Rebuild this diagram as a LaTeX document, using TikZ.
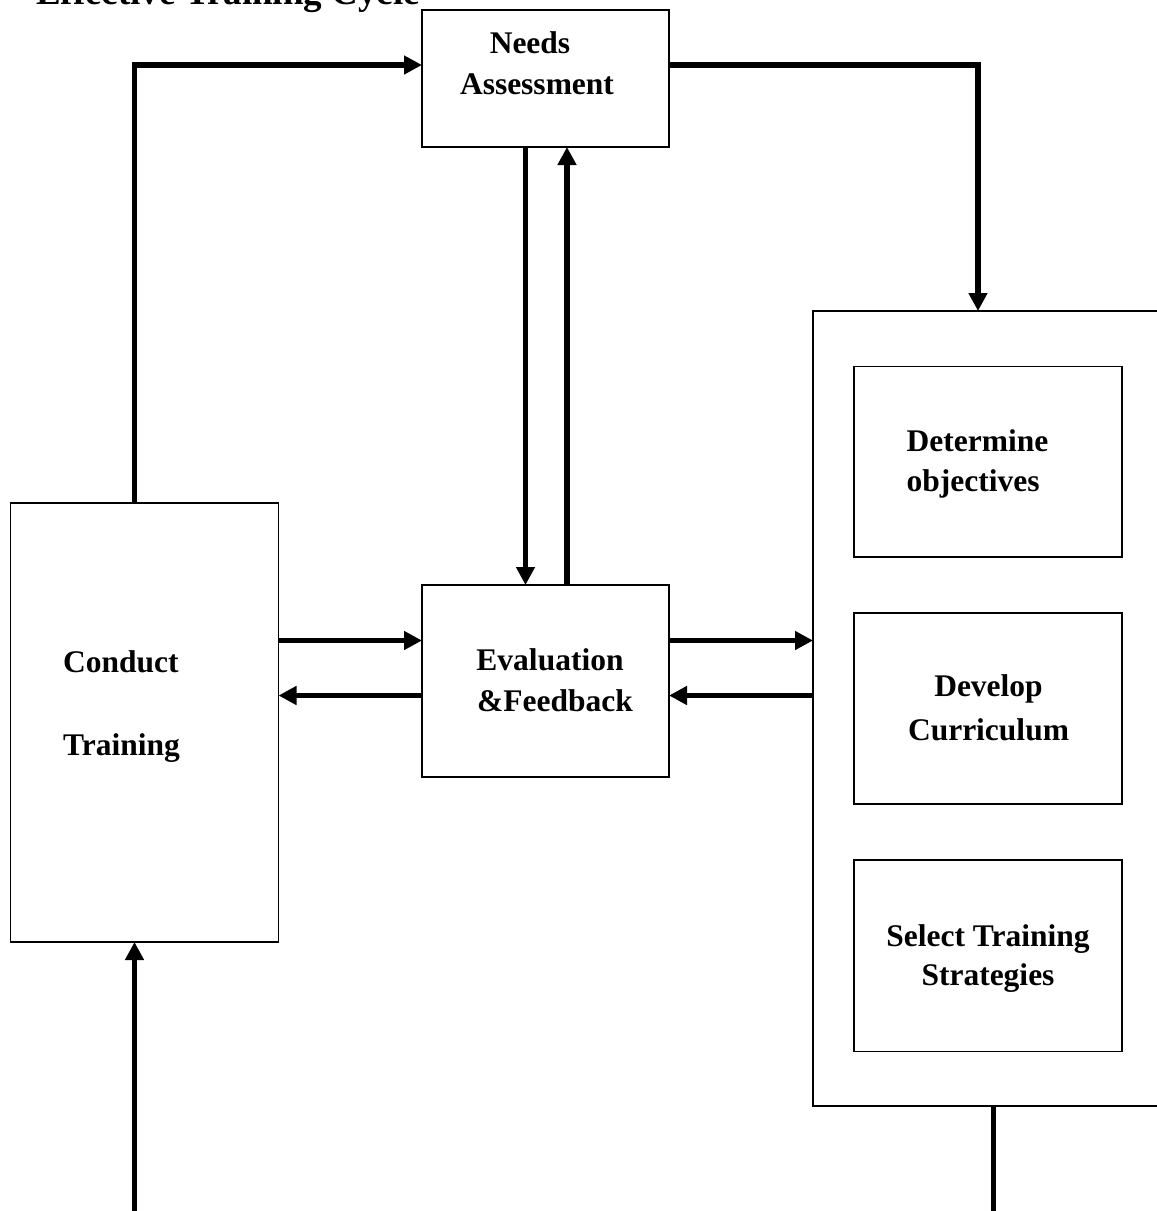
\documentclass[tikz,border=0pt]{standalone}
\usepackage{fontspec}
\setmainfont{Liberation Serif}
\usetikzlibrary{arrows.meta}
\tikzset{
  boxst/.style={draw, line width=1.6pt, rectangle, inner sep=0pt, outer sep=0pt},
  lbl/.style={inner sep=0pt, font=\fontsize{31.5}{38}\selectfont\bfseries},
  arr/.style={line width=5.5pt, -{Triangle[length=18pt,width=18pt]}},
  plain/.style={line width=5.5pt}
}
\begin{document}
\begin{tikzpicture}[x=1pt,y=-1pt]
\useasboundingbox (0,0) rectangle (1157,1211);
\clip (0,0) rectangle (1157,1211);
\fill[white] (0,0) rectangle (1157,1211);
% title
\node[lbl, font=\fontsize{37}{44}\selectfont\bfseries, anchor=base west] (title) at (36,4) {Effective Training Cycle};
% boxes
\node[boxst, minimum width=247pt, minimum height=137pt] (needs) at (545.5,78.5) {};
\node[boxst, minimum width=247pt, minimum height=192pt] (eval) at (545.5,681) {};
\node[boxst, minimum width=268pt, minimum height=439pt] (conduct) at (144.5,722.5) {};
\node[boxst, minimum width=380pt, minimum height=795pt] (outer) at (1003,708.5) {};
\node[boxst, minimum width=268pt, minimum height=190.5pt] (det) at (988,461.75) {};
\node[boxst, minimum width=268pt, minimum height=191pt] (dev) at (988,708.5) {};
\node[boxst, minimum width=268pt, minimum height=191.5pt] (sel) at (988,955.75) {};
% labels
\node[lbl, anchor=base] (t1) at (530,53.3) {Needs};
\node[lbl, anchor=base] (t2) at (537,94.3) {Assessment};
\node[lbl, anchor=base] (t3) at (550,670) {Evaluation};
\node[lbl, anchor=base] (t4) at (555,711.7) {\&Feedback};
\node[lbl, anchor=base west] (t5) at (63,672.7) {Conduct};
\node[lbl, anchor=base west] (t6) at (63,755) {Training};
\node[lbl, anchor=base west] (t7) at (906.5,451.7) {Determine};
\node[lbl, anchor=base west] (t8) at (906.5,491.7) {objectives};
\node[lbl, anchor=base] (t9) at (988.5,696.7) {Develop};
\node[lbl, anchor=base] (t10) at (988.5,740) {Curriculum};
\node[lbl, anchor=base] (t11) at (988,946.7) {Select Training};
\node[lbl, anchor=base] (t12) at (988,985) {Strategies};
% coordinates
\coordinate (r1) at ([yshift=40.5pt]eval.west);
\coordinate (l1) at ([yshift=-14.5pt]eval.west);
\coordinate (b1) at (134.5,1216);
\coordinate (b2) at (993.5,1216);
% connectors
\draw[arr] ([xshift=-10.2pt]conduct.north) |- ([yshift=13.5pt]needs.west);
\draw[arr] ([yshift=13.5pt]needs.east) -| ([xshift=-25pt]outer.north);
\draw[arr] ([xshift=-20pt]needs.south) -- ([xshift=-20pt]eval.north);
\draw[arr] ([xshift=21.5pt]eval.north) -- ([xshift=21.5pt]needs.south);
\draw[arr] (conduct.east |- r1) -- (r1);
\draw[arr] (l1) -- (conduct.east |- l1);
\draw[arr] (eval.east |- r1) -- (outer.west |- r1);
\draw[arr] (outer.west |- l1) -- (eval.east |- l1);
\draw[arr] (b1) -- (conduct.south -| b1);
\draw[plain] (outer.south -| b2) -- (b2);
\end{tikzpicture}
\end{document}
